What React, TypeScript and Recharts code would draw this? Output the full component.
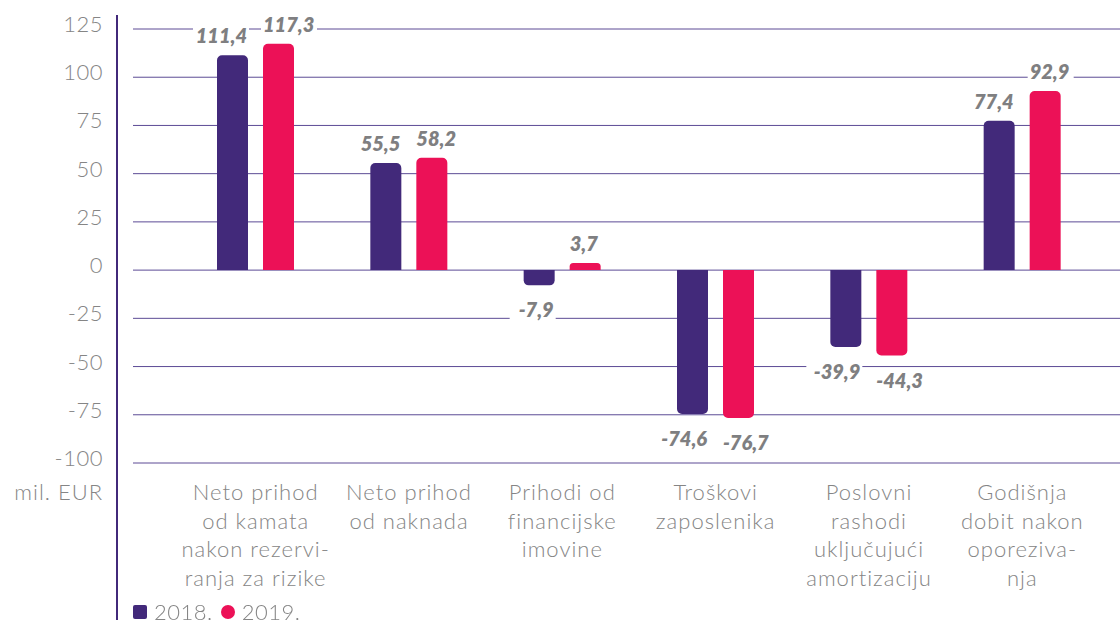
import React from "react";
import { BarChart, Bar, XAxis, YAxis, CartesianGrid } from "recharts";

const categories = [
  "Neto prihod\nod kamata\nnakon rezervi-\nranja za rizike",
  "Neto prihod\nod naknada",
  "Prihodi od\nfinancijske\nimovine",
  "Troškovi\nzaposlenika",
  "Poslovni\nrashodi\nuključujući\namortizaciju",
  "Godišnja\ndobit nakon\noporeziva-\nnja",
];
const values2018 = [111.4, 55.5, -7.9, -74.6, -39.9, 77.4];
const values2019 = [117.3, 58.2, 3.7, -76.7, -44.3, 92.9];
const yTicks = [125, 100, 75, 50, 25, 0, -25, -50, -75, -100];

const PURPLE = "#42297A";
const PINK = "#EC1157";
const TEXT_GREY = "#858585";
const GRID = "#5c4b95";
const FONT = "Lato, 'Open Sans', sans-serif";

const data = categories.map((name, i) => ({
  name,
  y2018: values2018[i],
  y2019: values2019[i],
}));

const fmt = (v: number) => v.toFixed(1).replace(".", ",");

// 2018 labels hug the right edge of their bar, 2019 labels the left edge,
// so the pair never collides
function makeValueLabel(side: "left" | "right") {
  return function ValueLabel(props: any) {
    const { x = 0, y = 0, width = 0, height = 0, value } = props;
    const v = Number(value);
    const top = Math.min(y, y + height);
    const bottom = Math.max(y, y + height);
    const text = fmt(v);
    const w = text.length * 10 + 2;
    const tx = side === "right" ? x + width - 1 : x;
    const rx = side === "right" ? tx - w - 2 : tx - 2;
    const cy = v >= 0 ? top - 19 : bottom + 25;
    return (
      <g>
        <rect x={rx} y={cy - 9} width={w + 4} height={18} fill="#fff" />
        <text
          x={tx}
          y={cy + 7}
          textAnchor={side === "right" ? "end" : "start"}
          fill="#7f7f81"
          style={{ fontFamily: FONT, fontSize: 20, fontWeight: 800, fontStyle: "italic" }}
        >
          {text}
        </text>
      </g>
    );
  };
}

function YTick(props: any) {
  const { x, y, payload } = props;
  return (
    <text
      x={x}
      y={y + 3}
      textAnchor="end"
      fill={TEXT_GREY}
      style={{ fontFamily: FONT, fontSize: 22, fontWeight: 300, letterSpacing: 0.5 }}
    >
      {payload.value}
    </text>
  );
}

function XTick(props: any) {
  const { x, y, payload } = props;
  const lines = String(payload.value).split("\n");
  return (
    <text
      textAnchor="middle"
      fill={TEXT_GREY}
      style={{ fontFamily: FONT, fontSize: 22, fontWeight: 300, letterSpacing: 1 }}
    >
      {lines.map((line, i) => (
        <tspan key={i} x={x} y={y + 37 + i * 28.5}>
          {line}
        </tspan>
      ))}
    </text>
  );
}

export default function App() {
  return (
    <div style={{ position: "fixed", left: 0, top: 0, width: 1120, height: 623, background: "#fff" }}>
      <BarChart
        width={1120}
        height={623}
        data={data}
        margin={{ top: 29, right: 0, bottom: 30, left: 0 }}
        barSize={31}
        barGap={15}
      >
        <CartesianGrid vertical={false} stroke={GRID} strokeWidth={1} />
        <XAxis
          dataKey="name"
          axisLine={false}
          tickLine={false}
          tickSize={0}
          tickMargin={0}
          height={130}
          interval={0}
          padding={{ left: 46, right: 21 }}
          tick={<XTick />}
        />
        <YAxis
          domain={[-100, 125]}
          ticks={yTicks}
          axisLine={false}
          tickLine={false}
          tickSize={0}
          tickMargin={30}
          width={133}
          interval={0}
          tick={<YTick />}
        />
        <Bar
          dataKey="y2018"
          fill={PURPLE}
          radius={[5, 5, 0, 0]}
          isAnimationActive={false}
          label={makeValueLabel("right")}
        />
        <Bar
          dataKey="y2019"
          fill={PINK}
          radius={[5, 5, 0, 0]}
          isAnimationActive={false}
          label={makeValueLabel("left")}
        />
      </BarChart>
      <div style={{ position: "absolute", left: 116, top: 15, width: 2, height: 605, background: PURPLE }} />
      <div
        style={{
          position: "absolute",
          left: 0,
          width: 103,
          top: 479,
          textAlign: "right",
          fontFamily: FONT,
          fontSize: 22,
          fontWeight: 300,
          letterSpacing: 1,
          color: TEXT_GREY,
          lineHeight: "26px",
        }}
      >
        mil. EUR
      </div>
      <div
        style={{
          position: "absolute",
          left: 133,
          top: 601,
          display: "flex",
          alignItems: "center",
          fontFamily: FONT,
          fontSize: 22,
          fontWeight: 300,
          letterSpacing: 0.5,
          color: TEXT_GREY,
          lineHeight: "22px",
        }}
      >
        <span style={{ width: 14, height: 14, background: PURPLE, borderRadius: 2, display: "inline-block", marginRight: 7 }} />
        <span>2018.</span>
        <span style={{ width: 14, height: 14, background: PINK, borderRadius: 7, display: "inline-block", marginLeft: 8, marginRight: 7 }} />
        <span>2019.</span>
      </div>
    </div>
  );
}
